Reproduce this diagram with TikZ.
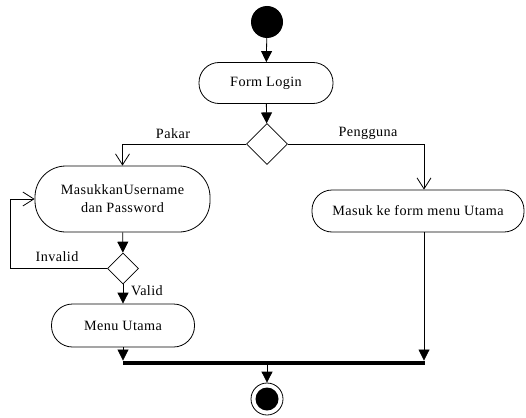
\documentclass[tikz,border=0pt]{standalone}
\usepackage{fontspec}
\setmainfont{Liberation Serif}[LetterSpace=3]
\usetikzlibrary{arrows.meta,shapes.geometric}
\begin{document}
\begin{tikzpicture}[x=1pt,y=-1pt,
  every node/.style={font=\fontsize{14.2}{18}\selectfont},
  action/.style={draw, line width=0.8pt, rectangle, align=center, inner sep=0pt},
  decision/.style={draw, line width=0.8pt, diamond, aspect=1, inner sep=0pt},
  flow/.style={line width=0.8pt, -{Triangle[width=11pt,length=11pt]}},
  branch/.style={line width=0.8pt, -{Straight Barb[width=14pt,length=11pt]}},
  lbl/.style={inner sep=0pt}
]
\useasboundingbox (0,0) rectangle (526,417);
% nodes
\node[circle, fill=black, minimum size=32pt, inner sep=0pt] (start) at (267,22) {};
\node[action, minimum width=134pt, minimum height=41pt, rounded corners=20pt] (login) at (266,83) {Form Login};
\node[decision, minimum width=41pt, minimum height=41pt] (dec1) at (267,144) {};
\node[action, minimum width=175pt, minimum height=66pt, rounded corners=31pt] (masuk) at (122.5,199) {MasukkanUsername\\dan Password};
\node[action, minimum width=212pt, minimum height=42pt, rounded corners=20pt] (form) at (418,211) {Masuk ke form menu Utama};
\node[decision, minimum width=31pt, minimum height=31pt] (dec2) at (123,268.5) {};
\node[action, minimum width=143pt, minimum height=43pt, rounded corners=21pt] (menu) at (123,325.5) {Menu Utama};
\node[rectangle, fill=black, minimum width=302pt, minimum height=4.5pt, inner sep=0pt] (bar) at (273.5,363) {};
\node[circle, draw, line width=0.8pt, minimum size=32pt, inner sep=0pt] (end) at (267,399) {};
\node[circle, fill=black, minimum size=23pt, inner sep=0pt] (endin) at (267,399) {};
% coordinates
\coordinate (pj) at (424,144);
\coordinate (loopb) at (10,268.5);
\coordinate (loopt) at (10,199);
% connectors
\draw[flow] (start) -- (login);
\draw[flow] (login) -- (dec1);
\draw[branch] (dec1.west) -| (masuk.north);
\draw[branch] (dec1.east) -- (pj) -- (pj |- form.north);
\draw[flow] (masuk) -- (dec2);
\draw[branch] (dec2.west) -- (loopb) -- (loopt) -- (masuk.west);
\draw[flow] (dec2) -- (menu);
\draw[flow] (menu.south) -- (menu.south |- bar.north);
\draw[flow] (pj |- form.south) -- (pj |- bar.north);
\draw[flow] (bar.south -| end) -- (end.north);
% labels
\node[lbl] (lpakar) at (173,134) {Pakar};
\node[lbl] (lpeng) at (368,133) {Pengguna};
\node[lbl] (linv) at (57,257) {Invalid};
\node[lbl] (lval) at (147,291) {Valid};
\end{tikzpicture}
\end{document}
